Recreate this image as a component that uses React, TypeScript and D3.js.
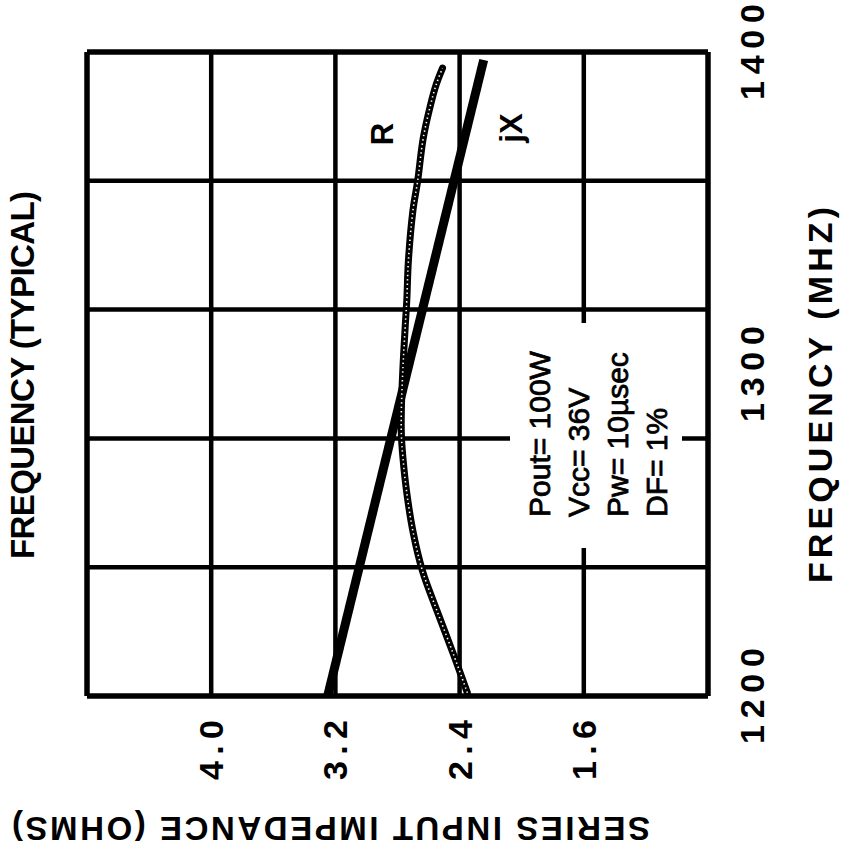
import React from "react";
import * as d3 from "d3";

const freqGrid = [1200, 1240, 1280, 1320, 1360, 1400];
const impGrid = [4.8, 4.0, 3.2, 2.4, 1.6, 0.8];
const freqTicks = ["1200", "1300", "1400"];
const impTicks = ["4.0", "3.2", "2.4", "1.6"];

const rFreq = [1201, 1213, 1227, 1239, 1251, 1263, 1274, 1281, 1289, 1302, 1315, 1323, 1335, 1351, 1360, 1373, 1383, 1390, 1395];
const rOhms = [2.35, 2.44, 2.55, 2.64, 2.70, 2.74, 2.765, 2.775, 2.775, 2.765, 2.75, 2.74, 2.73, 2.70, 2.67, 2.635, 2.59, 2.55, 2.51];

const jxFreq = [1200, 1397.5];
const jxOhms = [3.25, 2.245];

const legendLines = ["Pout= 100W", "Vcc= 36V", "Pw= 10µsec", "DF= 1%"];

const FONT = "'Liberation Sans', Arial, Helvetica, sans-serif";

export default function App() {
  const W = 844, H = 857;
  const x = d3.scaleLinear().domain([4.8, 0.8]).range([87, 708]);
  const y = d3.scaleLinear().domain([1200, 1400]).range([696, 52]);

  const rPts: [number, number][] = rFreq.map((f, i) => [x(rOhms[i]), y(f)]);
  const jxPts: [number, number][] = jxFreq.map((f, i) => [x(jxOhms[i]), y(f)]);
  const curve = d3.line().curve(d3.curveCatmullRom.alpha(0.5));
  const straight = d3.line();

  const rot = (cx: number, cy: number, a: number) => `translate(${cx},${cy}) rotate(${a})`;

  return (
    <svg width={W} height={H} style={{ position: "absolute", left: 0, top: 0, background: "#fff" }} fontFamily={FONT}>
      <rect x={0} y={0} width={W} height={H} fill="#fff" />
      {/* grid */}
      {freqGrid.map((f, i) => (
        <line key={"h" + f} x1={x(4.8)} x2={x(0.8)} y1={y(f)} y2={y(f)} stroke="#000"
          strokeWidth={i === 0 || i === freqGrid.length - 1 ? 5.5 : 4.5} />
      ))}
      {impGrid.map((v, i) => (
        <line key={"v" + v} x1={x(v)} x2={x(v)} y1={y(1200)} y2={y(1400)} stroke="#000"
          strokeWidth={i === 0 || i === impGrid.length - 1 ? 5.5 : 4.5} />
      ))}
      {/* legend box knocking out grid */}
      <rect x={510} y={323} width={172} height={225} fill="#fff" />
      {legendLines.map((t, i) => (
        <text key={t} transform={rot(550 + i * 39, 517, -90)} fontSize={30} fontWeight={400}
          fill="#000" stroke="#000" strokeWidth={0.8}>{t}</text>
      ))}
      {/* jX line */}
      <path d={straight(jxPts) || ""} fill="none" stroke="#000" strokeWidth={9} strokeLinecap="butt" />
      {/* R curve beaded */}
      <path d={curve(rPts) || ""} fill="none" stroke="#000" strokeWidth={7} strokeLinecap="round" />
      <path d={curve(rPts) || ""} fill="none" stroke="#fff" strokeWidth={1.6} strokeDasharray="1.4 3" />
      {/* curve labels */}
      <text transform={rot(382, 134, -90)} fontSize={31} fontWeight={700} textAnchor="middle" dominantBaseline="central">R</text>
      <text transform={rot(511, 128, -90)} fontSize={31} fontWeight={700} textAnchor="middle" dominantBaseline="central">jX</text>
      {/* frequency tick labels */}
      {freqTicks.map((t) => (
        <text key={t} transform={rot(752, y(+t), -90)} fontSize={34} fontWeight={700} textAnchor="middle"
          dominantBaseline="central" textLength={96} lengthAdjust="spacing">{t}</text>
      ))}
      {/* impedance tick labels */}
      {impTicks.map((t) => (
        <text key={t} transform={rot(x(+t), 750, -90)} fontSize={34} fontWeight={700} textAnchor="middle"
          dominantBaseline="central" textLength={60} lengthAdjust="spacing">{t}</text>
      ))}
      {/* axis titles */}
      <text transform={rot(820, 395, -90)} fontSize={34} fontWeight={700} textAnchor="middle"
        dominantBaseline="central" textLength={376} lengthAdjust="spacing">{"FREQUENCY  (MHZ)"}</text>
      <text transform={rot(22, 375, -90)} fontSize={33} fontWeight={700} textAnchor="middle"
        dominantBaseline="central" textLength={368} lengthAdjust="spacing">{"FREQUENCY  (TYPICAL)"}</text>
      <text transform={rot(331, 828, 180)} fontSize={33} fontWeight={700} textAnchor="middle"
        dominantBaseline="central" textLength={638} lengthAdjust="spacing">{"SERIES INPUT IMPEDANCE  (OHMS)"}</text>
    </svg>
  );
}
